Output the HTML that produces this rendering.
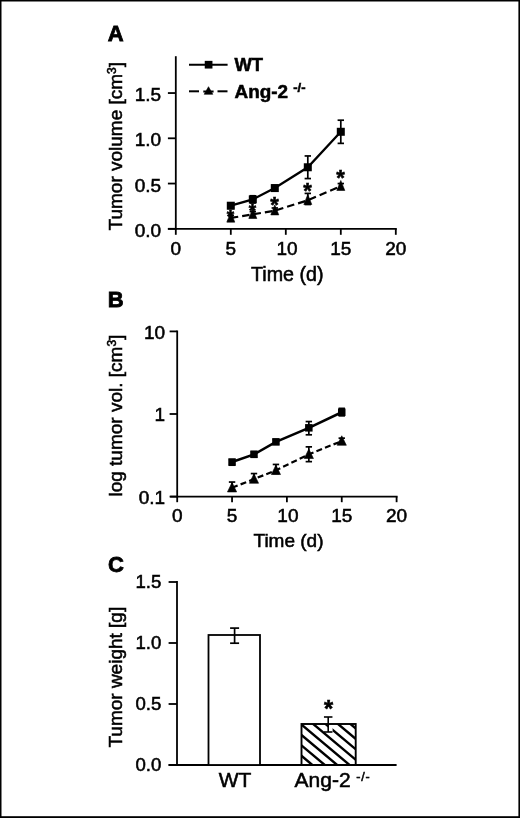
<!DOCTYPE html>
<html lang="en">
<head>
<meta charset="utf-8">
<title>Figure</title>
<style>
html,body{margin:0;padding:0;background:#fff;}
body{width:520px;height:818px;overflow:hidden;}
svg{position:absolute;left:0;top:0;display:block;will-change:transform;}
svg text{font-family:"Liberation Sans", sans-serif;fill:#000;stroke:#000;stroke-width:0.55px;}
svg text.star{dominant-baseline:auto;}
</style>
</head>
<body>
<svg width="520" height="818" viewBox="0 0 520 818">
<g id="frame" fill="#000"><rect x="0" y="0" width="520" height="1.5"/><rect x="0" y="0" width="1.5" height="818"/><rect x="518.4" y="0" width="1.6" height="818"/><rect x="0" y="816.2" width="520" height="1.8"/></g>
<g id="panelA">
<text x="107.80" y="41.10" font-size="22" text-anchor="start" font-weight="bold" style="stroke-width:0.8px">A</text>
<line x1="175.80" y1="56.20" x2="175.80" y2="229.70" stroke="#000" stroke-width="1.8" />
<line x1="167.90" y1="228.80" x2="396.80" y2="228.80" stroke="#000" stroke-width="1.8" />
<line x1="167.90" y1="228.80" x2="175.80" y2="228.80" stroke="#000" stroke-width="1.8" />
<text x="161.20" y="236.90" font-size="19" text-anchor="end" font-weight="normal" >0.0</text>
<line x1="167.90" y1="183.55" x2="175.80" y2="183.55" stroke="#000" stroke-width="1.8" />
<text x="161.20" y="191.65" font-size="19" text-anchor="end" font-weight="normal" >0.5</text>
<line x1="167.90" y1="138.30" x2="175.80" y2="138.30" stroke="#000" stroke-width="1.8" />
<text x="161.20" y="146.40" font-size="19" text-anchor="end" font-weight="normal" >1.0</text>
<line x1="167.90" y1="93.05" x2="175.80" y2="93.05" stroke="#000" stroke-width="1.8" />
<text x="161.20" y="101.15" font-size="19" text-anchor="end" font-weight="normal" >1.5</text>
<line x1="175.80" y1="228.80" x2="175.80" y2="234.80" stroke="#000" stroke-width="1.8" />
<text x="175.80" y="255.20" font-size="19" text-anchor="middle" font-weight="normal" >0</text>
<line x1="230.80" y1="228.80" x2="230.80" y2="234.80" stroke="#000" stroke-width="1.8" />
<text x="230.80" y="255.20" font-size="19" text-anchor="middle" font-weight="normal" >5</text>
<line x1="285.80" y1="228.80" x2="285.80" y2="234.80" stroke="#000" stroke-width="1.8" />
<text x="287.00" y="255.20" font-size="19" text-anchor="middle" font-weight="normal" >10</text>
<line x1="340.80" y1="228.80" x2="340.80" y2="234.80" stroke="#000" stroke-width="1.8" />
<text x="340.80" y="255.20" font-size="19" text-anchor="middle" font-weight="normal" >15</text>
<line x1="395.80" y1="228.80" x2="395.80" y2="234.80" stroke="#000" stroke-width="1.8" />
<text x="395.80" y="255.20" font-size="19" text-anchor="middle" font-weight="normal" >20</text>
<text x="287.30" y="280.50" font-size="19.7" text-anchor="middle" font-weight="normal" >Time (d)</text>
<text transform="translate(122,146.2) rotate(-90)" font-size="19" text-anchor="middle">Tumor volume [cm<tspan font-size="12" dy="-6">3</tspan><tspan dy="6">]</tspan></text>
<polyline points="230.80,205.72 252.80,199.39 274.80,188.08 307.80,167.26 340.80,131.78" fill="none" stroke="#000" stroke-width="2.3"/>
<polyline points="230.80,217.94 252.80,214.32 274.80,210.70 307.80,200.29 340.80,186.27" fill="none" stroke="#000" stroke-width="2.2" stroke-dasharray="7.5 4"/>
<text x="230.50" y="222.69" font-size="19" text-anchor="middle" font-weight="bold" class="star">*</text>
<text x="252.50" y="216.69" font-size="19" text-anchor="middle" font-weight="bold" class="star">*</text>
<text x="274.50" y="211.62" font-size="22" text-anchor="middle" font-weight="bold" class="star">*</text>
<text x="307.50" y="198.42" font-size="22" text-anchor="middle" font-weight="bold" class="star">*</text>
<text x="340.50" y="185.42" font-size="22" text-anchor="middle" font-weight="bold" class="star">*</text>
<line x1="230.80" y1="203.01" x2="230.80" y2="208.44" stroke="#000" stroke-width="1.7" />
<line x1="227.60" y1="203.01" x2="234.00" y2="203.01" stroke="#000" stroke-width="1.7" />
<line x1="227.60" y1="208.44" x2="234.00" y2="208.44" stroke="#000" stroke-width="1.7" />
<rect x="226.80" y="201.72" width="8" height="8" fill="#000"/>
<line x1="252.80" y1="195.77" x2="252.80" y2="203.01" stroke="#000" stroke-width="1.7" />
<line x1="249.60" y1="195.77" x2="256.00" y2="195.77" stroke="#000" stroke-width="1.7" />
<line x1="249.60" y1="203.01" x2="256.00" y2="203.01" stroke="#000" stroke-width="1.7" />
<rect x="248.80" y="195.39" width="8" height="8" fill="#000"/>
<line x1="274.80" y1="185.36" x2="274.80" y2="190.79" stroke="#000" stroke-width="1.7" />
<line x1="271.60" y1="185.36" x2="278.00" y2="185.36" stroke="#000" stroke-width="1.7" />
<line x1="271.60" y1="190.79" x2="278.00" y2="190.79" stroke="#000" stroke-width="1.7" />
<rect x="270.80" y="184.08" width="8" height="8" fill="#000"/>
<line x1="307.80" y1="155.95" x2="307.80" y2="178.57" stroke="#000" stroke-width="1.7" />
<line x1="304.60" y1="155.95" x2="311.00" y2="155.95" stroke="#000" stroke-width="1.7" />
<line x1="304.60" y1="178.57" x2="311.00" y2="178.57" stroke="#000" stroke-width="1.7" />
<rect x="303.80" y="163.26" width="8" height="8" fill="#000"/>
<line x1="340.80" y1="120.20" x2="340.80" y2="143.37" stroke="#000" stroke-width="1.7" />
<line x1="337.60" y1="120.20" x2="344.00" y2="120.20" stroke="#000" stroke-width="1.7" />
<line x1="337.60" y1="143.37" x2="344.00" y2="143.37" stroke="#000" stroke-width="1.7" />
<rect x="336.80" y="127.78" width="8" height="8" fill="#000"/>
<line x1="230.80" y1="215.23" x2="230.80" y2="220.66" stroke="#000" stroke-width="1.7" />
<line x1="227.60" y1="215.23" x2="234.00" y2="215.23" stroke="#000" stroke-width="1.7" />
<line x1="227.60" y1="220.66" x2="234.00" y2="220.66" stroke="#000" stroke-width="1.7" />
<polygon points="230.80,212.14 234.80,222.14 226.80,222.14" fill="#000" stroke="#000" stroke-width="0.6" stroke-linejoin="round"/>
<line x1="252.80" y1="211.61" x2="252.80" y2="217.04" stroke="#000" stroke-width="1.7" />
<line x1="249.60" y1="211.61" x2="256.00" y2="211.61" stroke="#000" stroke-width="1.7" />
<line x1="249.60" y1="217.04" x2="256.00" y2="217.04" stroke="#000" stroke-width="1.7" />
<polygon points="252.80,208.52 256.80,218.52 248.80,218.52" fill="#000" stroke="#000" stroke-width="0.6" stroke-linejoin="round"/>
<line x1="274.80" y1="207.99" x2="274.80" y2="213.42" stroke="#000" stroke-width="1.7" />
<line x1="271.60" y1="207.99" x2="278.00" y2="207.99" stroke="#000" stroke-width="1.7" />
<line x1="271.60" y1="213.42" x2="278.00" y2="213.42" stroke="#000" stroke-width="1.7" />
<polygon points="274.80,204.90 278.80,214.90 270.80,214.90" fill="#000" stroke="#000" stroke-width="0.6" stroke-linejoin="round"/>
<line x1="307.80" y1="193.40" x2="307.80" y2="204.50" stroke="#000" stroke-width="1.7" />
<line x1="304.60" y1="193.40" x2="311.00" y2="193.40" stroke="#000" stroke-width="1.7" />
<line x1="304.60" y1="204.50" x2="311.00" y2="204.50" stroke="#000" stroke-width="1.7" />
<polygon points="307.80,194.49 311.80,204.49 303.80,204.49" fill="#000" stroke="#000" stroke-width="0.6" stroke-linejoin="round"/>
<line x1="340.80" y1="183.55" x2="340.80" y2="188.98" stroke="#000" stroke-width="1.7" />
<line x1="337.60" y1="183.55" x2="344.00" y2="183.55" stroke="#000" stroke-width="1.7" />
<line x1="337.60" y1="188.98" x2="344.00" y2="188.98" stroke="#000" stroke-width="1.7" />
<polygon points="340.80,180.47 344.80,190.47 336.80,190.47" fill="#000" stroke="#000" stroke-width="0.6" stroke-linejoin="round"/>
<line x1="189.00" y1="64.80" x2="227.60" y2="64.80" stroke="#000" stroke-width="2" />
<rect x="204.75" y="60.85" width="7.7" height="7.7" fill="#000"/>
<text x="234.50" y="71.20" font-size="18.4" text-anchor="start" font-weight="bold" >WT</text>
<line x1="189.00" y1="91.30" x2="199.00" y2="91.30" stroke="#000" stroke-width="2" />
<line x1="217.50" y1="91.30" x2="227.50" y2="91.30" stroke="#000" stroke-width="2" />
<line x1="203.30" y1="91.50" x2="213.60" y2="91.50" stroke="#000" stroke-width="2" />
<polygon points="208.50,86.70 212.80,94.30 204.20,94.30" fill="#000" stroke="#000" stroke-width="0.6" stroke-linejoin="round"/>
<text x="234.5" y="97.8" font-size="18.9" font-weight="bold">Ang-2</text><text x="293.2" y="92.4" font-size="13" font-weight="bold">-/-</text>
</g>
<g id="panelB">
<text x="107.70" y="306.90" font-size="22" text-anchor="start" font-weight="bold" style="stroke-width:0.8px">B</text>
<line x1="177.20" y1="330.50" x2="177.20" y2="497.50" stroke="#000" stroke-width="1.8" />
<line x1="170.20" y1="496.60" x2="397.60" y2="496.60" stroke="#000" stroke-width="1.8" />
<line x1="169.60" y1="496.60" x2="177.20" y2="496.60" stroke="#000" stroke-width="1.8" />
<text x="165.20" y="503.80" font-size="19" text-anchor="end" font-weight="normal" >0.1</text>
<line x1="169.60" y1="414.00" x2="177.20" y2="414.00" stroke="#000" stroke-width="1.8" />
<text x="165.20" y="421.20" font-size="19" text-anchor="end" font-weight="normal" >1</text>
<line x1="169.60" y1="331.40" x2="177.20" y2="331.40" stroke="#000" stroke-width="1.8" />
<text x="165.20" y="338.60" font-size="19" text-anchor="end" font-weight="normal" >10</text>
<line x1="177.20" y1="496.60" x2="177.20" y2="502.20" stroke="#000" stroke-width="1.8" />
<text x="177.20" y="521.60" font-size="19" text-anchor="middle" font-weight="normal" >0</text>
<line x1="232.05" y1="496.60" x2="232.05" y2="502.20" stroke="#000" stroke-width="1.8" />
<text x="232.05" y="521.60" font-size="19" text-anchor="middle" font-weight="normal" >5</text>
<line x1="286.90" y1="496.60" x2="286.90" y2="502.20" stroke="#000" stroke-width="1.8" />
<text x="287.90" y="521.60" font-size="19" text-anchor="middle" font-weight="normal" >10</text>
<line x1="341.75" y1="496.60" x2="341.75" y2="502.20" stroke="#000" stroke-width="1.8" />
<text x="341.75" y="521.60" font-size="19" text-anchor="middle" font-weight="normal" >15</text>
<line x1="396.60" y1="496.60" x2="396.60" y2="502.20" stroke="#000" stroke-width="1.8" />
<text x="396.60" y="521.60" font-size="19" text-anchor="middle" font-weight="normal" >20</text>
<text x="288.50" y="547.40" font-size="19" text-anchor="middle" font-weight="normal" >Time (d)</text>
<text transform="translate(122,415.6) rotate(-90)" font-size="19" text-anchor="middle">log tumor vol. [cm<tspan font-size="12" dy="-6">3</tspan><tspan dy="6">]</tspan></text>
<polyline points="232.05,462.05 253.99,454.32 275.93,441.86 308.84,427.83 341.75,412.25" fill="none" stroke="#000" stroke-width="2.5"/>
<polyline points="232.05,487.74 253.99,479.07 275.93,470.33 308.84,454.32 341.75,441.08" fill="none" stroke="#000" stroke-width="2.2" stroke-dasharray="6 3.2"/>
<line x1="232.05" y1="459.66" x2="232.05" y2="465.19" stroke="#000" stroke-width="1.7" />
<line x1="228.85" y1="459.66" x2="235.25" y2="459.66" stroke="#000" stroke-width="1.7" />
<line x1="228.85" y1="465.19" x2="235.25" y2="465.19" stroke="#000" stroke-width="1.7" />
<rect x="228.30" y="458.30" width="7.5" height="7.5" fill="#000"/>
<line x1="253.99" y1="451.66" x2="253.99" y2="457.19" stroke="#000" stroke-width="1.7" />
<line x1="250.79" y1="451.66" x2="257.19" y2="451.66" stroke="#000" stroke-width="1.7" />
<line x1="250.79" y1="457.19" x2="257.19" y2="457.19" stroke="#000" stroke-width="1.7" />
<rect x="250.24" y="450.57" width="7.5" height="7.5" fill="#000"/>
<line x1="275.93" y1="439.59" x2="275.93" y2="444.28" stroke="#000" stroke-width="1.7" />
<line x1="272.73" y1="439.59" x2="279.13" y2="439.59" stroke="#000" stroke-width="1.7" />
<line x1="272.73" y1="444.28" x2="279.13" y2="444.28" stroke="#000" stroke-width="1.7" />
<rect x="272.18" y="438.11" width="7.5" height="7.5" fill="#000"/>
<line x1="308.84" y1="421.56" x2="308.84" y2="434.80" stroke="#000" stroke-width="1.7" />
<line x1="305.64" y1="421.56" x2="312.04" y2="421.56" stroke="#000" stroke-width="1.7" />
<line x1="305.64" y1="434.80" x2="312.04" y2="434.80" stroke="#000" stroke-width="1.7" />
<rect x="305.09" y="424.08" width="7.5" height="7.5" fill="#000"/>
<line x1="341.75" y1="408.37" x2="341.75" y2="415.84" stroke="#000" stroke-width="1.7" />
<line x1="338.55" y1="408.37" x2="344.95" y2="408.37" stroke="#000" stroke-width="1.7" />
<line x1="338.55" y1="415.84" x2="344.95" y2="415.84" stroke="#000" stroke-width="1.7" />
<rect x="338.00" y="408.50" width="7.5" height="7.5" fill="#000"/>
<line x1="232.05" y1="482.05" x2="232.05" y2="490.66" stroke="#000" stroke-width="1.7" />
<line x1="228.85" y1="482.05" x2="235.25" y2="482.05" stroke="#000" stroke-width="1.7" />
<line x1="228.85" y1="490.66" x2="235.25" y2="490.66" stroke="#000" stroke-width="1.7" />
<polygon points="232.05,482.44 236.65,491.94 227.45,491.94" fill="#000" stroke="#000" stroke-width="0.6" stroke-linejoin="round"/>
<line x1="253.99" y1="473.57" x2="253.99" y2="482.05" stroke="#000" stroke-width="1.7" />
<line x1="250.79" y1="473.57" x2="257.19" y2="473.57" stroke="#000" stroke-width="1.7" />
<line x1="250.79" y1="482.05" x2="257.19" y2="482.05" stroke="#000" stroke-width="1.7" />
<polygon points="253.99,473.77 258.59,483.27 249.39,483.27" fill="#000" stroke="#000" stroke-width="0.6" stroke-linejoin="round"/>
<line x1="275.93" y1="464.45" x2="275.93" y2="473.57" stroke="#000" stroke-width="1.7" />
<line x1="272.73" y1="464.45" x2="279.13" y2="464.45" stroke="#000" stroke-width="1.7" />
<line x1="272.73" y1="473.57" x2="279.13" y2="473.57" stroke="#000" stroke-width="1.7" />
<polygon points="275.93,465.03 280.53,474.53 271.33,474.53" fill="#000" stroke="#000" stroke-width="0.6" stroke-linejoin="round"/>
<line x1="308.84" y1="446.87" x2="308.84" y2="461.64" stroke="#000" stroke-width="1.7" />
<line x1="305.64" y1="446.87" x2="312.04" y2="446.87" stroke="#000" stroke-width="1.7" />
<line x1="305.64" y1="461.64" x2="312.04" y2="461.64" stroke="#000" stroke-width="1.7" />
<polygon points="308.84,449.02 313.44,458.52 304.24,458.52" fill="#000" stroke="#000" stroke-width="0.6" stroke-linejoin="round"/>
<line x1="341.75" y1="438.15" x2="341.75" y2="443.45" stroke="#000" stroke-width="1.7" />
<line x1="338.55" y1="438.15" x2="344.95" y2="438.15" stroke="#000" stroke-width="1.7" />
<line x1="338.55" y1="443.45" x2="344.95" y2="443.45" stroke="#000" stroke-width="1.7" />
<polygon points="341.75,435.78 346.35,445.28 337.15,445.28" fill="#000" stroke="#000" stroke-width="0.6" stroke-linejoin="round"/>
</g>
<g id="panelC">
<text x="108.00" y="571.60" font-size="22" text-anchor="start" font-weight="bold" style="stroke-width:0.8px">C</text>
<line x1="177.00" y1="581.10" x2="177.00" y2="765.90" stroke="#000" stroke-width="1.8" />
<line x1="168.60" y1="765.00" x2="396.60" y2="765.00" stroke="#000" stroke-width="1.8" />
<line x1="168.60" y1="765.00" x2="177.00" y2="765.00" stroke="#000" stroke-width="1.8" />
<text x="161.40" y="771.20" font-size="18.6" text-anchor="end" font-weight="normal" >0.0</text>
<line x1="168.60" y1="704.00" x2="177.00" y2="704.00" stroke="#000" stroke-width="1.8" />
<text x="161.40" y="710.20" font-size="18.6" text-anchor="end" font-weight="normal" >0.5</text>
<line x1="168.60" y1="643.00" x2="177.00" y2="643.00" stroke="#000" stroke-width="1.8" />
<text x="161.40" y="649.20" font-size="18.6" text-anchor="end" font-weight="normal" >1.0</text>
<line x1="168.60" y1="582.00" x2="177.00" y2="582.00" stroke="#000" stroke-width="1.8" />
<text x="161.40" y="588.20" font-size="18.6" text-anchor="end" font-weight="normal" >1.5</text>
<text transform="translate(122,677.2) rotate(-90)" font-size="19" text-anchor="middle">Tumor weight [g]</text>
<rect x="208.5" y="635" width="51.5" height="130" fill="#fff" stroke="#000" stroke-width="1.8"/>
<clipPath id="hc"><rect x="301.5" y="724.0" width="54.19999999999999" height="41.0"/></clipPath>
<g clip-path="url(#hc)">
<line x1="194.00" y1="707.20" x2="294.00" y2="791.20" stroke="#000" stroke-width="2.4" />
<line x1="206.40" y1="707.20" x2="306.40" y2="791.20" stroke="#000" stroke-width="2.4" />
<line x1="218.80" y1="707.20" x2="318.80" y2="791.20" stroke="#000" stroke-width="2.4" />
<line x1="231.20" y1="707.20" x2="331.20" y2="791.20" stroke="#000" stroke-width="2.4" />
<line x1="243.60" y1="707.20" x2="343.60" y2="791.20" stroke="#000" stroke-width="2.4" />
<line x1="256.00" y1="707.20" x2="356.00" y2="791.20" stroke="#000" stroke-width="2.4" />
<line x1="268.40" y1="707.20" x2="368.40" y2="791.20" stroke="#000" stroke-width="2.4" />
<line x1="280.80" y1="707.20" x2="380.80" y2="791.20" stroke="#000" stroke-width="2.4" />
<line x1="293.20" y1="707.20" x2="393.20" y2="791.20" stroke="#000" stroke-width="2.4" />
<line x1="305.60" y1="707.20" x2="405.60" y2="791.20" stroke="#000" stroke-width="2.4" />
<line x1="318.00" y1="707.20" x2="418.00" y2="791.20" stroke="#000" stroke-width="2.4" />
<line x1="330.40" y1="707.20" x2="430.40" y2="791.20" stroke="#000" stroke-width="2.4" />
<line x1="342.80" y1="707.20" x2="442.80" y2="791.20" stroke="#000" stroke-width="2.4" />
<line x1="355.20" y1="707.20" x2="455.20" y2="791.20" stroke="#000" stroke-width="2.4" />
<line x1="367.60" y1="707.20" x2="467.60" y2="791.20" stroke="#000" stroke-width="2.4" />
<line x1="380.00" y1="707.20" x2="480.00" y2="791.20" stroke="#000" stroke-width="2.4" />
</g>
<rect x="301.5" y="724.0" width="54.19999999999999" height="41.0" fill="none" stroke="#000" stroke-width="1.9"/>
<line x1="234.60" y1="628.10" x2="234.60" y2="643.20" stroke="#000" stroke-width="1.7" />
<line x1="230.10" y1="628.10" x2="239.10" y2="628.10" stroke="#000" stroke-width="1.7" />
<line x1="230.10" y1="643.20" x2="239.10" y2="643.20" stroke="#000" stroke-width="1.7" />
<rect x="328.8" y="725.2" width="3.8" height="6.4" fill="#fff"/>
<line x1="328.20" y1="717.00" x2="328.20" y2="732.00" stroke="#000" stroke-width="1.6" />
<line x1="323.95" y1="717.00" x2="332.45" y2="717.00" stroke="#000" stroke-width="1.6" />
<line x1="323.95" y1="732.00" x2="332.45" y2="732.00" stroke="#000" stroke-width="1.6" />
<text x="328.50" y="716.59" font-size="23.5" text-anchor="middle" font-weight="bold" class="star">*</text>
<text x="235.10" y="786.70" font-size="21" text-anchor="middle" font-weight="normal" >WT</text>
<text x="294.6" y="786.7" font-size="21">Ang-2</text><text x="356.2" y="780.6" font-size="12.5" letter-spacing="0.9">-/-</text>
</g>
</svg>
</body>
</html>
